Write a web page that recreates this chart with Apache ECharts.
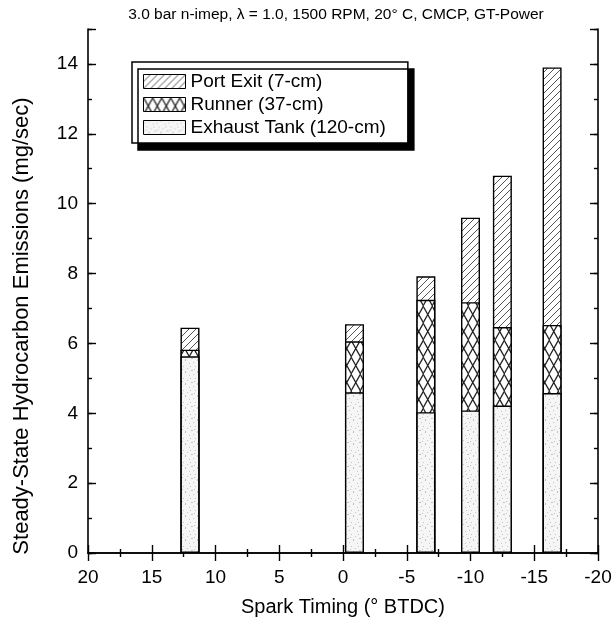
<!DOCTYPE html>
<html>
<head>
<meta charset="utf-8">
<script src="https://cdn.jsdelivr.net/npm/echarts@6/dist/echarts.min.js"></script>
<style>
html,body{margin:0;padding:0;background:#fff;}
#chart{width:616px;height:633px;}
</style>
</head>
<body>
<div id="chart"></div>
<script>
// ---- data ----
const titleText = '3.0 bar n-imep, \u03bb = 1.0, 1500 RPM, 20\u00b0 C, CMCP, GT-Power';
const seriesNames = ['Port Exit (7-cm)', 'Runner (37-cm)', 'Exhaust Tank (120-cm)'];
const sparkTiming = [12, -0.9, -6.5, -10, -12.5, -16.4];
const exhaustTank = [5.63, 4.60, 4.03, 4.08, 4.22, 4.58];
const runner      = [0.19, 1.46, 3.22, 3.10, 2.25, 1.95];
const portExit    = [0.63, 0.49, 0.67, 2.42, 4.33, 7.37];
const xAxisName = 'Spark Timing (\u00b0 BTDC)';
const yAxisName = 'Steady-State Hydrocarbon Emissions (mg/sec)';

// ---- fill patterns ----
function makeCanvas(w, h) {
  const c = document.createElement('canvas');
  c.width = w; c.height = h;
  return c;
}
function hatchPattern() {
  const s = 7;
  const c = makeCanvas(s, s);
  const g = c.getContext('2d');
  g.fillStyle = '#ffffff'; g.fillRect(0, 0, s, s);
  g.strokeStyle = '#555'; g.lineWidth = 1;
  g.beginPath();
  g.moveTo(-1, s + 1); g.lineTo(s + 1, -1);
  g.moveTo(-1, 1); g.lineTo(1, -1);
  g.moveTo(s - 1, s + 1); g.lineTo(s + 1, s - 1);
  g.stroke();
  return c;
}
function crossPattern() {
  const w = 9.5, h = 17;
  const c = makeCanvas(w, h);
  const g = c.getContext('2d');
  g.fillStyle = '#ffffff'; g.fillRect(0, 0, w, h);
  g.strokeStyle = '#222'; g.lineWidth = 1.3;
  g.beginPath();
  g.moveTo(0, 0); g.lineTo(w, h);
  g.moveTo(w, 0); g.lineTo(0, h);
  g.stroke();
  return c;
}
function stipplePattern() {
  const s = 12;
  const c = makeCanvas(s, s);
  const g = c.getContext('2d');
  g.fillStyle = '#f6f6f6'; g.fillRect(0, 0, s, s);
  g.fillStyle = '#c4c4c4';
  const dots = [[1,2],[5,0],[9,3],[3,6],[7,8],[11,10],[0,10],[5,11],[10,6],[2,9]];
  dots.forEach(d => g.fillRect(d[0], d[1], 1, 1));
  return c;
}
const fills = {
  port: { image: hatchPattern(), repeat: 'repeat' },
  runner: { image: crossPattern(), repeat: 'repeat' },
  exhaust: { image: stipplePattern(), repeat: 'repeat' }
};

// cumulative tops of each segment (bars overlap, drawn back to front)
const runnerTop = exhaustTank.map((v, i) => v + runner[i]);
const portTop = runnerTop.map((v, i) => v + portExit[i]);
function pairs(vals) { return sparkTiming.map((t, i) => [t, +vals[i].toFixed(3)]); }

const font = 'Arial, "Liberation Sans", sans-serif';
const chart = echarts.init(document.getElementById('chart'), null, { renderer: 'canvas' });

const lineStyle = { color: '#000', width: 1.6 };
const baseX = {
  type: 'value', min: -20, max: 20, interval: 5, inverse: true,
  axisLine: { show: true, lineStyle: lineStyle },
  axisTick: { show: true, inside: true, length: 8, lineStyle: { color: '#000', width: 1.4 } },
  minorTick: { show: true, splitNumber: 2, length: 4, lineStyle: { color: '#000', width: 1.4 } },
  splitLine: { show: false }, minorSplitLine: { show: false }
};
function yAx(pos, interval, len, showLabel, showLine) {
  return {
    type: 'value', position: pos, min: 0, max: 15, interval: interval,
    axisLine: { show: showLine, onZero: false, lineStyle: lineStyle },
    axisTick: { show: true, inside: true, length: len, lineStyle: { color: '#000', width: 1.4 } },
    axisLabel: {
      show: showLabel, color: '#000', fontSize: 19, fontFamily: font, margin: 10,
      formatter: v => (v > 14 ? '' : String(v))
    },
    splitLine: { show: false }
  };
}

const barCommon = {
  type: 'bar', barWidth: 19, barGap: '-100%',
  xAxisIndex: 0, yAxisIndex: 0
};

chart.setOption({
  animation: false,
  backgroundColor: '#fff',
  grid: { left: 88, right: 18, top: 29, bottom: 80 },
  legend: {
    orient: 'vertical', left: 132, top: 62,
    data: seriesNames.map(n => ({ name: n, icon: 'rect' })),
    itemWidth: 42, itemHeight: 14, itemGap: 4,
    padding: [10, 22, 6, 11],
    backgroundColor: '#fff', borderColor: '#000', borderWidth: 1.5,
    shadowColor: '#000', shadowBlur: 0, shadowOffsetX: 6, shadowOffsetY: 7,
    textStyle: { fontSize: 19, color: '#000', fontFamily: font },
    itemStyle: { borderColor: '#000', borderWidth: 1 }
  },
  xAxis: [
    Object.assign({}, baseX, {
      position: 'bottom',
      axisLabel: { show: true, color: '#000', fontSize: 19, fontFamily: font, margin: 15 },
      name: xAxisName, nameLocation: 'middle', nameGap: 44,
      nameTextStyle: { fontSize: 20, color: '#000', fontFamily: font }
    }),
    Object.assign({}, baseX, { position: 'top', axisLabel: { show: false } })
  ],
  yAxis: [
    yAx('left', 2, 8, true, true),
    yAx('left', 1, 4, false, false),
    yAx('right', 2, 8, false, true),
    yAx('right', 1, 4, false, false)
  ],
  graphic: [{
    type: 'text', x: 336, y: 15,
    style: {
      text: titleText, font: '15.5px ' + font, fill: '#000',
      textAlign: 'center', textVerticalAlign: 'middle'
    }
  }, {
    type: 'text', x: 22, y: 326, rotation: Math.PI / 2,
    style: {
      text: yAxisName, font: '22px ' + font, fill: '#000',
      textAlign: 'center', textVerticalAlign: 'middle'
    }
  }],
  series: [
    Object.assign({}, barCommon, {
      name: seriesNames[0], data: pairs(portTop),
      itemStyle: { color: fills.port, borderColor: '#000', borderWidth: 1.4 }
    }),
    Object.assign({}, barCommon, {
      name: seriesNames[1], data: pairs(runnerTop),
      itemStyle: { color: fills.runner, borderColor: '#000', borderWidth: 1.4 }
    }),
    Object.assign({}, barCommon, {
      name: seriesNames[2], data: pairs(exhaustTank),
      itemStyle: { color: fills.exhaust, borderColor: '#000', borderWidth: 1.4 }
    })
  ]
});
</script>
</body>
</html>
